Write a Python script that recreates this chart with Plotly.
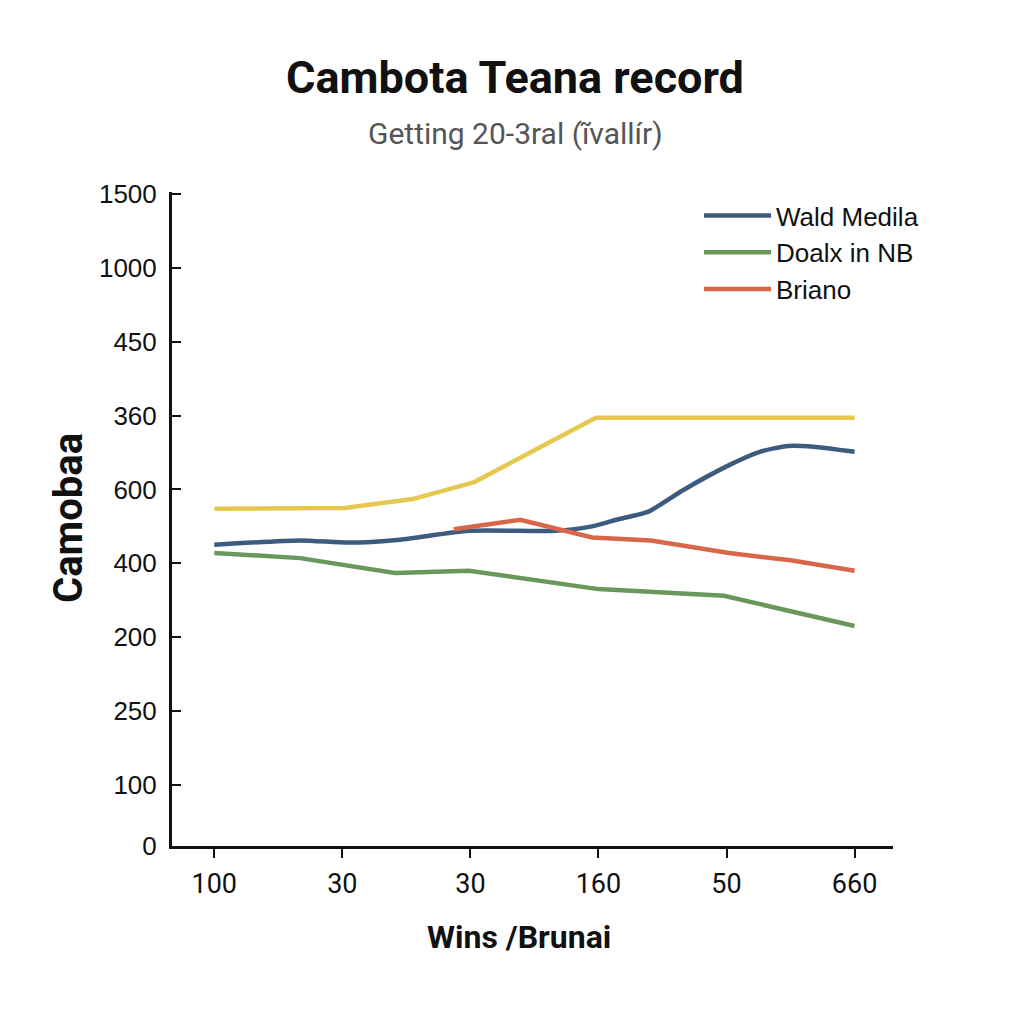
import plotly.graph_objects as go

# Tick labels (as printed on the chart)
x_tick_labels = ["100", "30", "30", "160", "50", "660"]
x_tick_pos = [0, 1, 2, 3, 4, 5]
y_tick_labels = ["0", "100", "250", "200", "400", "600", "360", "450", "1000", "1500"]
y_tick_pos = [0.17, 1, 2, 3, 4, 5, 6, 7, 8, 9]

# Series (x in tick-slot units, y in tick-slot units)
yellow_x = [0, 1.02, 1.55, 2.03, 2.98, 5.0]
yellow_y = [4.74, 4.75, 4.87, 5.10, 5.97, 5.97]

wald_x = [0, 0.67, 1.05, 1.45, 1.99, 2.66, 2.95, 3.14, 3.39, 3.66, 4.02, 4.26, 4.48, 4.68, 5.0]
wald_y = [4.25, 4.31, 4.28, 4.32, 4.44, 4.44, 4.50, 4.59, 4.70, 4.99, 5.33, 5.51, 5.59, 5.58, 5.51]

doalx_x = [0, 0.67, 1.41, 1.99, 3.00, 3.42, 3.98, 5.0]
doalx_y = [4.14, 4.07, 3.87, 3.90, 3.65, 3.61, 3.56, 3.15]

briano_x = [1.87, 2.39, 2.95, 3.41, 4.02, 4.50, 5.0]
briano_y = [4.46, 4.59, 4.35, 4.31, 4.14, 4.04, 3.90]

# Layout geometry (pixels)
W, H = 1024, 1024
ML, MR, MT, MB = 172, 131, 192, 178
plot_w = W - ML - MR
plot_h = H - MT - MB


def px_to_paper(px):
    return (px - ML) / plot_w


def py_to_paper(py):
    return (H - MB - py) / plot_h


fig = go.Figure()
fig.add_trace(go.Scatter(x=yellow_x, y=yellow_y, mode="lines", showlegend=False,
                         line=dict(color="#e6c84e", width=4.5)))
fig.add_trace(go.Scatter(x=wald_x, y=wald_y, mode="lines", name="Wald Medila",
                         line=dict(color="#3d5a7f", width=4.5, shape="spline", smoothing=0.6)))
fig.add_trace(go.Scatter(x=doalx_x, y=doalx_y, mode="lines", name="Doalx in NB",
                         line=dict(color="#6a985c", width=4.5)))
fig.add_trace(go.Scatter(x=briano_x, y=briano_y, mode="lines", name="Briano",
                         line=dict(color="#d8674a", width=4.5)))

fig.update_layout(
    width=W, height=H,
    paper_bgcolor="white", plot_bgcolor="white",
    margin=dict(l=ML, r=MR, t=MT, b=MB),
    font=dict(family="Liberation Sans, Arial, sans-serif", color="#111"),
    showlegend=True,
    legend=dict(x=px_to_paper(699), y=py_to_paper(192), xanchor="left", yanchor="top",
                font=dict(size=26, family="Liberation Sans, Arial, sans-serif", color="#111"),
                bgcolor="rgba(0,0,0,0)", tracegroupgap=0, itemwidth=67),
    annotations=[
        dict(text="<b>Cambota Teana record</b>", x=px_to_paper(515), y=py_to_paper(78),
             xref="paper", yref="paper", yanchor="middle", showarrow=False,
             font=dict(size=45, family="Roboto, Liberation Sans, sans-serif", color="#111")),
        dict(text="Getting 20-3ral (ĩvallír)", x=px_to_paper(515), y=py_to_paper(133),
             xref="paper", yref="paper", yanchor="middle", showarrow=False,
             font=dict(size=30, family="Roboto, Liberation Sans, sans-serif", color="#555")),
        dict(text="<b>Wins /Brunai</b>", x=px_to_paper(519), y=py_to_paper(937),
             xref="paper", yref="paper", yanchor="middle", showarrow=False,
             font=dict(size=32, family="Roboto, Liberation Sans, sans-serif", color="#111")),
        dict(text="<b>Camobaa</b>", x=px_to_paper(68), y=py_to_paper(518), textangle=-90,
             xref="paper", yref="paper", xanchor="center", yanchor="middle", showarrow=False,
             font=dict(size=40, family="Roboto, Liberation Sans, sans-serif", color="#111")),
    ],
)

fig.update_xaxes(
    range=[-0.33, 5.30], tickvals=x_tick_pos, ticktext=x_tick_labels,
    showgrid=False, zeroline=False, showline=True, linecolor="#111", linewidth=3,
    ticks="outside", ticklen=9, tickwidth=2, tickcolor="#111",
    tickfont=dict(size=27, family="Roboto, Liberation Sans, sans-serif", color="#111"),
    ticklabelstandoff=3,
)
fig.update_yaxes(
    range=[0.17, 9.03], tickvals=y_tick_pos, ticktext=y_tick_labels,
    showgrid=False, zeroline=False, showline=True, linecolor="#111", linewidth=3,
    ticks="inside", ticklen=9, tickwidth=2, tickcolor="#111",
    tickfont=dict(size=26, family="Liberation Sans, Arial, sans-serif", color="#111"),
    ticklabelstandoff=7,
)

fig.write_html("out.html")
